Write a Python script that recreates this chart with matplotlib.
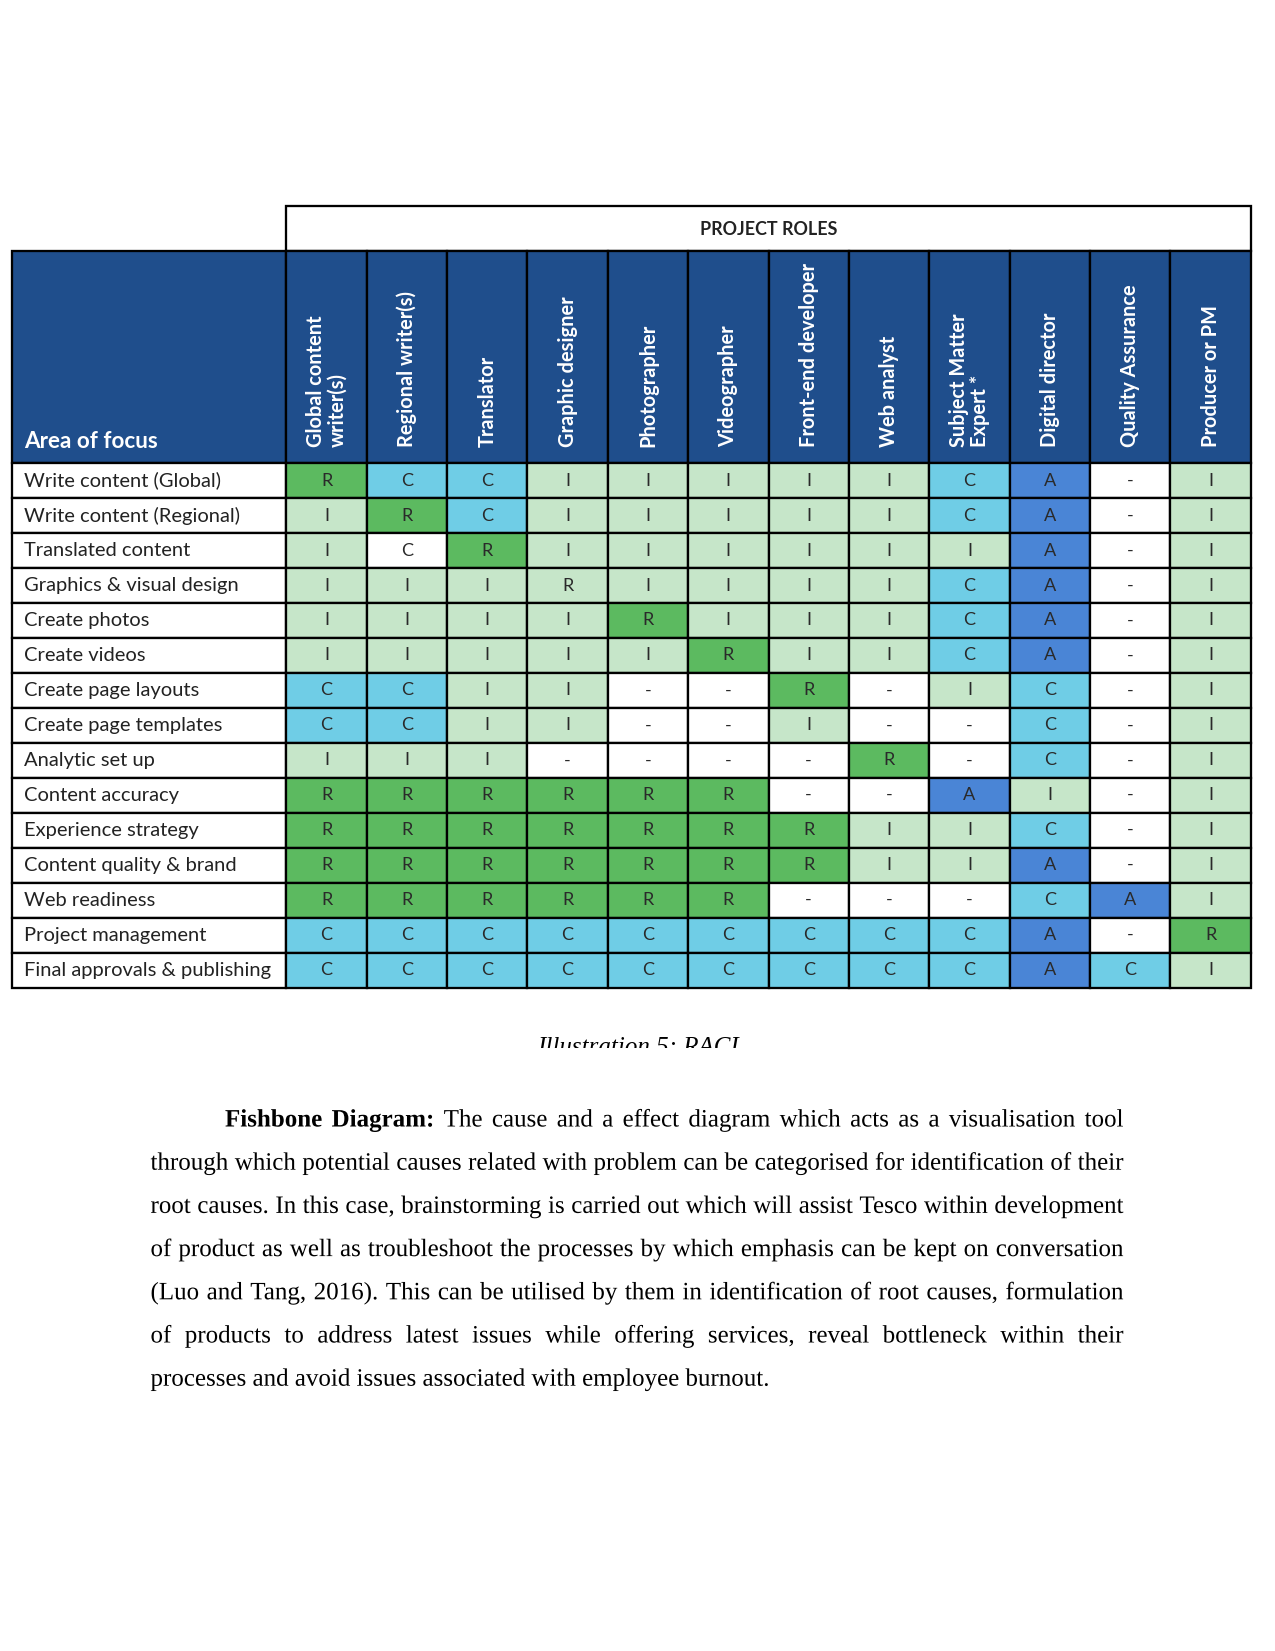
import matplotlib.pyplot as plt
from matplotlib.patches import Rectangle, PathPatch
from matplotlib.transforms import Bbox, TransformedBbox, Affine2D
from matplotlib.textpath import TextPath, text_to_path
from matplotlib.font_manager import FontProperties

#dados da tabela RACI
areas = ['Write content (Global)', 'Write content (Regional)', 'Translated content',
         'Graphics & visual design', 'Create photos', 'Create videos', 'Create page layouts',
         'Create page templates', 'Analytic set up', 'Content accuracy', 'Experience strategy',
         'Content quality & brand', 'Web readiness', 'Project management',
         'Final approvals & publishing']
papeis = ['Global content\nwriter(s)', 'Regional writer(s)', 'Translator', 'Graphic designer',
          'Photographer', 'Videographer', 'Front-end developer', 'Web analyst',
          'Subject Matter\nExpert *', 'Digital director', 'Quality Assurance', 'Producer or PM']
raci = ['RCCIIIIICA-I',
        'IRCIIIIICA-I',
        'ICRIIIIIIA-I',
        'IIIRIIIICA-I',
        'IIIIRIIICA-I',
        'IIIIIRIICA-I',
        'CCII--R-IC-I',
        'CCII--I--C-I',
        'III----R-C-I',
        'RRRRRR--AI-I',
        'RRRRRRRIIC-I',
        'RRRRRRRIIA-I',
        'RRRRRR---CAI',
        'CCCCCCCCCA-R',
        'CCCCCCCCCACI']

#texto do paragrafo
paragrafo = [
    'Fishbone Diagram: The cause and a effect diagram which acts as a visualisation tool',
    'through which potential causes related with problem can be categorised for identification of their',
    'root causes. In this case, brainstorming is carried out which will assist Tesco within development',
    'of product as well as troubleshoot the processes by which emphasis can be kept on conversation',
    '(Luo and Tang, 2016). This can be utilised by them in identification of root causes, formulation',
    'of products to address latest issues while offering services, reveal bottleneck within their',
    'processes and avoid issues associated with employee burnout.',
]

#cores
cor_header = '#1f4e8c'
cor_letra = {'R': '#5cba60', 'I': '#c6e6c9', 'C': '#6fcde6', 'A': '#4a85d6', '-': '#ffffff'}
cor_excecao = {(2, 1): '#ffffff', (3, 3): '#c6e6c9'}
fonte_tab = 'Lato'
fonte_txt = 'Liberation Serif'

fig = plt.figure(figsize=(8.5, 1651 / 150), dpi=150)
ax = fig.add_axes([0, 0, 1, 1])
ax.set_xlim(0, 1275)
ax.set_ylim(1651, 0)
ax.axis('off')

#geometria da tabela (pixels)
x0 = 11.6
x1 = 286.4
x2 = 1250.7
y_pr = 206.4
y_h = 250.6
y_c = 463.2
y_fim = 987.5
cw = (x2 - x1) / len(papeis)
rh = (y_fim - y_c) / len(areas)
lw = 1.1

#caixa PROJECT ROLES
ax.add_patch(Rectangle((x1, y_pr), x2 - x1, y_h - y_pr, fc='white', ec='black', lw=lw))
ax.text((x1 + x2) / 2, (y_pr + y_h) / 2 + 1, 'PROJECT ROLES', ha='center', va='center',
        fontsize=8.6, family=fonte_tab, fontweight='bold', color='#222222')

#cabecalho azul
ax.add_patch(Rectangle((x0, y_h), x1 - x0, y_c - y_h, fc=cor_header, ec='black', lw=lw))
ax.text(x0 + 13, y_c - 11, 'Area of focus', ha='left', va='bottom', fontsize=10.8,
        family=fonte_tab, fontweight='bold', color='white')
for j, papel in enumerate(papeis):
    ax.add_patch(Rectangle((x1 + j * cw, y_h), cw, y_c - y_h, fc=cor_header, ec='black', lw=lw))
    ax.text(x1 + (j + 0.5) * cw, y_c - 16, papel, rotation=90, ha='center', va='bottom',
            multialignment='left', fontsize=9.6, family=fonte_tab, fontweight='bold',
            color='white', linespacing=1.1)

#linhas da tabela
for i, area in enumerate(areas):
    y = y_c + i * rh
    ax.add_patch(Rectangle((x0, y), x1 - x0, rh, fc='white', ec='black', lw=lw))
    ax.text(x0 + 12, y + rh / 2, area, ha='left', va='center', fontsize=9.7,
            family=fonte_tab, color='#222222')
    for j, letra in enumerate(raci[i]):
        cor = cor_excecao.get((i, j), cor_letra[letra])
        ax.add_patch(Rectangle((x1 + j * cw, y), cw, rh, fc=cor, ec='black', lw=lw))
        ax.text(x1 + (j + 0.5) * cw, y + rh / 2, letra, ha='center', va='center',
                fontsize=8.7, family=fonte_tab, color='#2a2a2a')

#legenda cortada
leg = ax.text(638, 1037, 'Illustration 5: RACI', ha='center', va='top', fontsize=12,
              family=fonte_txt, style='italic', color='black')
leg.set_clip_box(TransformedBbox(Bbox([[0, 0], [1275, 1048]]), ax.transData))
leg.set_clip_on(True)

#paragrafo justificado (palavras como caminhos para manter a linha de base)
esq = 150.5
dir = 1123.5
recuo = 225
base = 1126.5
passo = 43.2
tam = 12 * 150 / 72
fp_normal = FontProperties(family=fonte_txt, size=tam)
fp_negrito = FontProperties(family=fonte_txt, weight='bold', size=tam)
for k, linha in enumerate(paragrafo):
    palavras = linha.split(' ')
    fps = [fp_negrito if (k == 0 and n < 2) else fp_normal for n in range(len(palavras))]
    larguras = [text_to_path.get_text_width_height_descent(p, fp, ismath=False)[0]
                for p, fp in zip(palavras, fps)]
    inicio = recuo if k == 0 else esq
    if k < len(paragrafo) - 1:
        espaco = (dir - inicio - sum(larguras)) / (len(palavras) - 1)
    else:
        espaco = 6.2
    x = inicio
    for p, fp, w in zip(palavras, fps, larguras):
        caminho = TextPath((0, 0), p, prop=fp)
        caminho = Affine2D().scale(1, -1).translate(x, base + k * passo).transform_path(caminho)
        ax.add_patch(PathPatch(caminho, fc='black', ec='none', lw=0))
        x += w + espaco

fig.savefig('out.png', dpi=150, facecolor='white')
